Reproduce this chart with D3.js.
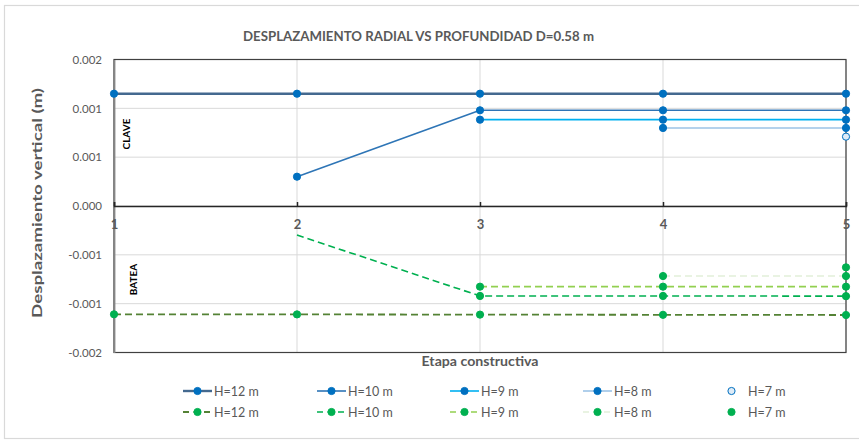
<!DOCTYPE html>
<html>
<head>
<meta charset="utf-8">
<script src="https://cdn.jsdelivr.net/npm/d3@7"></script>
<style>
  html, body { margin: 0; padding: 0; background: #fff; }
  svg { display: block; font-family: Lato, "Open Sans", sans-serif; }
</style>
</head>
<body>
<svg id="chart" width="859" height="440"></svg>
<script>
// ---------- DATA ----------
const stages = [1, 2, 3, 4, 5];
const xTickLabels = ["1", "2", "3", "4", "5"];
const yTicks = [-0.0015, -0.001, -0.0005, 0, 0.0005, 0.001, 0.0015];
const yTickLabels = ["-0.002", "-0.001", "-0.001", "0.000", "0.001", "0.001", "0.002"];

// CLAVE (crown)
const claveH12 = [0.00115, 0.00115, 0.00115, 0.00115, 0.00115];
const claveH10 = [null, 0.00030, 0.00098, 0.00098, 0.00098];
const claveH9  = [null, null, 0.000884, 0.000884, 0.000884];
const claveH8  = [null, null, null, 0.000799, 0.000799];
const claveH7  = [null, null, null, null, 0.00071];

// BATEA (invert)
const bateaH12 = [-0.001109, -0.00111, -0.001112, -0.001114, -0.001116];
const bateaH10 = [null, -0.000297, -0.000921, -0.000921, -0.000923];
const bateaH9  = [null, null, -0.000826, -0.000826, -0.000826];
const bateaH8  = [null, null, null, -0.000717, -0.000717];
const bateaH7  = [null, null, null, null, -0.000628];

const seriesNames = ["H=12 m", "H=10 m", "H=9 m", "H=8 m", "H=7 m"];
const titleText = "DESPLAZAMIENTO RADIAL VS PROFUNDIDAD D=0.58 m";
const yTitle = "Desplazamiento vertical (m)";
const xTitle = "Etapa constructiva";

// ---------- STYLES ----------
const series = [
  { name: seriesNames[0], values: claveH12, line: "#44698f", width: 2.4, dash: null, mk: "#0070c0", mkFill: "#0070c0" },
  { name: seriesNames[1], values: claveH10, line: "#2e75b6", width: 1.6, dash: null, mk: "#0070c0", mkFill: "#0070c0" },
  { name: seriesNames[2], values: claveH9,  line: "#00b0f0", width: 1.6, dash: null, mk: "#0070c0", mkFill: "#0070c0" },
  { name: seriesNames[3], values: claveH8,  line: "#9dc3e6", width: 1.6, dash: null, mk: "#0070c0", mkFill: "#0070c0" },
  { name: seriesNames[4], values: claveH7,  line: null,      width: 0,   dash: null, mk: "#0070c0", mkFill: "#deebf7" },
  { name: seriesNames[0], values: bateaH12, line: "#548235", width: 1.8, dash: "7,4", mk: "#00b050", mkFill: "#00b050" },
  { name: seriesNames[1], values: bateaH10, line: "#00b050", width: 1.6, dash: "7,4", mk: "#00b050", mkFill: "#00b050", hideMk: [2] },
  { name: seriesNames[2], values: bateaH9,  line: "#92d050", width: 1.6, dash: "7,4", mk: "#00b050", mkFill: "#00b050" },
  { name: seriesNames[3], values: bateaH8,  line: "#e2f0d9", width: 1.6, dash: "7,4", mk: "#00b050", mkFill: "#00b050" },
  { name: seriesNames[4], values: bateaH7,  line: null,      width: 0,   dash: null, mk: "#00b050", mkFill: "#00b050" }
];

const svg = d3.select("#chart");
const plot = { left: 114, right: 846, top: 59.5, bottom: 352.5 };

const x = d3.scaleLinear().domain([1, 5]).range([plot.left, plot.right]);
const y = d3.scaleLinear().domain([-0.0015, 0.0015]).range([plot.bottom, plot.top]);

// outer chart border
svg.append("rect").attr("x", 4.5).attr("y", 5.5).attr("width", 870).attr("height", 433)
  .attr("fill", "#fff").attr("stroke", "#d9d9d9").attr("stroke-width", 1.2);

// gridlines
const g = svg.append("g");
g.selectAll(".hg").data(yTicks).join("line")
  .attr("x1", plot.left).attr("x2", plot.right)
  .attr("y1", d => y(d)).attr("y2", d => y(d))
  .attr("stroke", "#d9d9d9").attr("stroke-width", 1);
g.selectAll(".vg").data(stages).join("line")
  .attr("x1", d => x(d)).attr("x2", d => x(d))
  .attr("y1", plot.top).attr("y2", plot.bottom)
  .attr("stroke", "#d9d9d9").attr("stroke-width", 1);

// plot border
svg.append("rect").attr("x", plot.left).attr("y", plot.top)
  .attr("width", plot.right - plot.left).attr("height", plot.bottom - plot.top)
  .attr("fill", "none").attr("stroke", "#404040").attr("stroke-width", 1.2);

// y axis
const yAxis = d3.axisLeft(y).tickValues(yTicks).tickSize(0).tickPadding(12)
  .tickFormat((d, i) => yTickLabels[i]);
const ya = svg.append("g").attr("transform", `translate(${plot.left},0)`).call(yAxis);
ya.select(".domain").attr("stroke", "#868686").attr("stroke-width", 1.8);
ya.selectAll("text").attr("fill", "#595959").style("font-size", "11.5px").style("font-family", "Lato, sans-serif");

// x axis at zero
const xAxis = d3.axisBottom(x).tickValues(stages).tickSize(-4).tickPadding(14)
  .tickFormat((d, i) => xTickLabels[i]);
const xa = svg.append("g").attr("transform", `translate(0,${y(0)})`).call(xAxis);
xa.select(".domain").attr("stroke", "#262626").attr("stroke-width", 1.5);
xa.selectAll(".tick line").attr("stroke", "#262626").attr("stroke-width", 1.5);
xa.selectAll("text").attr("fill", "#595959").style("font-size", "13px").style("font-weight", "bold").style("font-family", "Lato, sans-serif");

// series
const lineGen = d3.line().defined(d => d.v !== null).x(d => x(d.s)).y(d => y(d.v));
series.forEach(sr => {
  const pts = stages.map((s, i) => ({ s, v: sr.values[i] }));
  if (sr.line) {
    svg.append("path").datum(pts).attr("d", lineGen)
      .attr("fill", "none").attr("stroke", sr.line).attr("stroke-width", sr.width)
      .attr("stroke-dasharray", sr.dash).attr("stroke-linejoin", "round");
  }
  svg.append("g").selectAll("circle")
    .data(pts.filter(p => p.v !== null && !(sr.hideMk || []).includes(p.s)))
    .join("circle")
    .attr("cx", p => x(p.s)).attr("cy", p => y(p.v)).attr("r", 3.6)
    .attr("fill", sr.mkFill).attr("stroke", sr.mk).attr("stroke-width", 1);
});

// section labels
svg.append("text").attr("transform", `translate(130,134) rotate(-90)`)
  .attr("text-anchor", "middle").style("font-size", "10px").style("font-weight", "bold")
  .attr("fill", "#000").text("CLAVE");
svg.append("text").attr("transform", `translate(136.5,279.5) rotate(-90)`)
  .attr("text-anchor", "middle").style("font-size", "10px").style("font-weight", "bold")
  .attr("fill", "#000").text("BATEA");

// titles
svg.append("text").attr("x", 418.5).attr("y", 41).attr("text-anchor", "middle")
  .style("font-size", "12.5px").style("font-weight", "bold").attr("fill", "#595959")
  .attr("textLength", 351).attr("lengthAdjust", "spacingAndGlyphs").text(titleText);

svg.append("text").attr("transform", `translate(42,203) rotate(-90)`).attr("text-anchor", "middle")
  .style("font-size", "13px").style("font-weight", "bold").attr("fill", "#595959")
  .attr("textLength", 230).attr("lengthAdjust", "spacingAndGlyphs").text(yTitle);

svg.append("text").attr("x", 480).attr("y", 366).attr("text-anchor", "middle")
  .style("font-size", "13px").style("font-weight", "bold").attr("fill", "#595959")
  .attr("textLength", 117).attr("lengthAdjust", "spacingAndGlyphs").text(xTitle);

// legend
const legCols = [183, 317, 450, 583, 717];
const legRows = [391, 412];
series.forEach((sr, i) => {
  const col = i % 5, row = Math.floor(i / 5);
  const lg = svg.append("g").attr("transform", `translate(${legCols[col]},${legRows[row]})`);
  if (sr.line) {
    lg.append("line").attr("x1", 0).attr("x2", 29).attr("y1", 0).attr("y2", 0)
      .attr("stroke", sr.line).attr("stroke-width", sr.width)
      .attr("stroke-dasharray", sr.dash ? "6,4.5" : null);
  }
  lg.append("circle").attr("cx", 14.5).attr("cy", 0).attr("r", 3.6)
    .attr("fill", sr.mkFill).attr("stroke", sr.mk).attr("stroke-width", 1);
  lg.append("text").attr("x", 31).attr("y", 4.5)
    .style("font-size", "12.5px").attr("fill", "#595959").text(sr.name);
});
</script>
</body>
</html>
